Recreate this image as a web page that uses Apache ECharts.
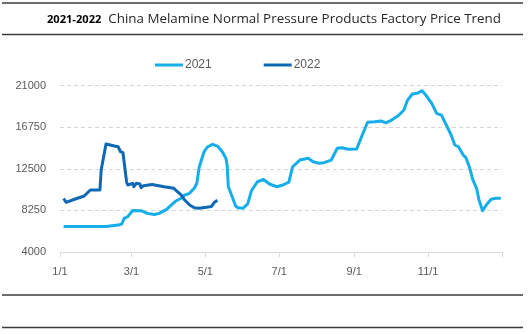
<!DOCTYPE html>
<html>
<head>
<meta charset="utf-8">
<script src="https://cdn.jsdelivr.net/npm/echarts@6/dist/echarts.min.js"></script>
<style>
  html, body { margin: 0; padding: 0; background: #fff; }
  #chart { width: 528px; height: 334px; }
</style>
</head>
<body>
<div id="chart"></div>
<script>
// Factory price, yuan/ton, sampled on the dates listed (M/D)
const dates2021 = ['1/4','2/8','2/18','2/21','2/23','2/26','3/2','3/9','3/14','3/20','3/24','3/30',
  '4/6','4/11','4/14','4/18','4/22','4/24','4/26','4/30','5/3','5/7','5/11','5/15','5/18','5/19',
  '5/20','5/23','5/26','5/28','6/1','6/5','6/8','6/13','6/18','6/23','6/29','7/4','7/9','7/12',
  '7/18','7/25','7/29','8/3','8/7','8/13','8/18','8/22','8/27','9/3','9/7','9/12','9/18','9/23',
  '9/27','10/1','10/8','10/12','10/15','10/19','10/23','10/27','10/30','11/4','11/8','11/12',
  '11/16','11/20','11/23','11/26','11/30','12/2','12/5','12/8','12/11','12/13','12/16','12/19',
  '12/23','12/27','12/28','12/31'];
const values2021 = [6600,6600,6750,6860,7440,7610,8240,8220,7950,7830,7950,8360,
  9160,9490,9830,10000,10540,11050,12720,14250,14760,15010,14830,14250,13580,12890,
  10670,9720,8700,8520,8470,8910,10230,11180,11410,10950,10670,10850,11150,12690,
  13400,13580,13230,13070,13130,13400,14600,14660,14500,14530,15780,17260,17320,17390,
  17210,17420,18000,18510,19530,20150,20220,20490,20050,19200,18180,18000,
  16980,15960,14940,14760,13910,13680,12720,11360,10510,9310,8220,8800,
  9390,9490,9650,9490];

const dates2022 = ['1/4','1/6','1/13','1/21','1/26','2/3','2/4','2/8','2/15','2/18','2/20','2/22',
  '2/25','2/26','3/2','3/3','3/5','3/8','3/9','3/11','3/18','3/28','4/5','4/8','4/11','4/14',
  '4/18','4/22','4/26','5/2','5/6','5/9','5/11'];
const values2022 = [9470,9080,9390,9720,10340,10340,12380,15040,14830,14760,14250,14150,
  11150,10850,11020,10670,11020,10950,10570,10780,10900,10670,10510,10160,9830,9310,
  8800,8520,8470,8570,8650,9140,9280];

const xTickLabels = ['1/1','3/1','5/1','7/1','9/1','11/1'];
const yTicks = [4000, 8250, 12500, 16750, 21000];

// day-of-year (1/1 -> 0) on a common 365-day axis
const monthStart = [0,31,59,90,120,151,181,212,243,273,304,334];
function dayOf(md) {
  const [m, d] = md.split('/').map(Number);
  return monthStart[m - 1] + d - 1;
}
const pairs = (ds, vs) => ds.map((d, i) => [dayOf(d), vs[i]]);

const labelDays = xTickLabels.map(dayOf);
const labelByDay = {};
labelDays.forEach((d, i) => { labelByDay[d] = xTickLabels[i]; });

const chart = echarts.init(document.getElementById('chart'), null, { renderer: 'canvas' });

const rule = (y) => ({
  type: 'line',
  shape: { x1: 2, y1: y, x2: 523, y2: y },
  style: { stroke: '#3c3c3c', lineWidth: 1.6 },
  silent: true
});

chart.setOption({
  animation: false,
  backgroundColor: '#ffffff',
  title: {
    text: '{b|2021-2022}  China Melamine Normal Pressure Products Factory Price Trend',
    left: 42,
    top: 8,
    textStyle: {
      fontFamily: 'Open Sans',
      fontSize: 13.4,
      fontWeight: 'normal',
      color: '#262626',
      rich: {
        b: { fontFamily: 'Open Sans', fontSize: 11.1, fontWeight: 'bold', color: '#000000' }
      }
    }
  },
  graphic: [rule(3), rule(34.5), rule(295), rule(327.5)],
  legend: {
    top: 54,
    left: 150,
    itemWidth: 28,
    itemHeight: 3,
    itemGap: 52,
    icon: 'rect',
    textStyle: { fontFamily: 'Liberation Sans', fontSize: 12, color: '#595959', padding: [0, 0, 0, -3] },
    data: ['2021', '2022']
  },
  grid: { left: 60, right: 26, top: 85.7, bottom: 82, containLabel: false },
  xAxis: {
    type: 'value',
    min: 0,
    max: 365,
    axisLine: { lineStyle: { color: '#d9d9d9', width: 1 } },
    axisTick: {
      show: true,
      length: 5,
      customValues: labelDays.concat([365]),
      lineStyle: { color: '#d9d9d9' }
    },
    axisLabel: {
      customValues: labelDays,
      formatter: (v) => labelByDay[v] || '',
      fontFamily: 'Liberation Sans',
      fontSize: 11,
      color: '#595959',
      margin: 14
    },
    splitLine: { show: false }
  },
  yAxis: {
    type: 'value',
    min: yTicks[0],
    max: yTicks[yTicks.length - 1],
    interval: yTicks[1] - yTicks[0],
    axisLine: { show: false },
    axisTick: { show: false },
    axisLabel: {
      formatter: (v) => String(v),
      fontFamily: 'Liberation Sans',
      fontSize: 11,
      color: '#595959',
      margin: 14
    },
    splitLine: { lineStyle: { color: '#d6d6d6', type: [4, 3], width: 1 } }
  },
  series: [
    {
      name: '2021',
      type: 'line',
      data: pairs(dates2021, values2021),
      showSymbol: false,
      color: '#16aee8',
      lineStyle: { width: 3, color: '#16aee8', join: 'round' }
    },
    {
      name: '2022',
      type: 'line',
      data: pairs(dates2022, values2022),
      showSymbol: false,
      color: '#0e68b6',
      lineStyle: { width: 3, color: '#0e68b6', join: 'round' }
    }
  ]
});
</script>
</body>
</html>
